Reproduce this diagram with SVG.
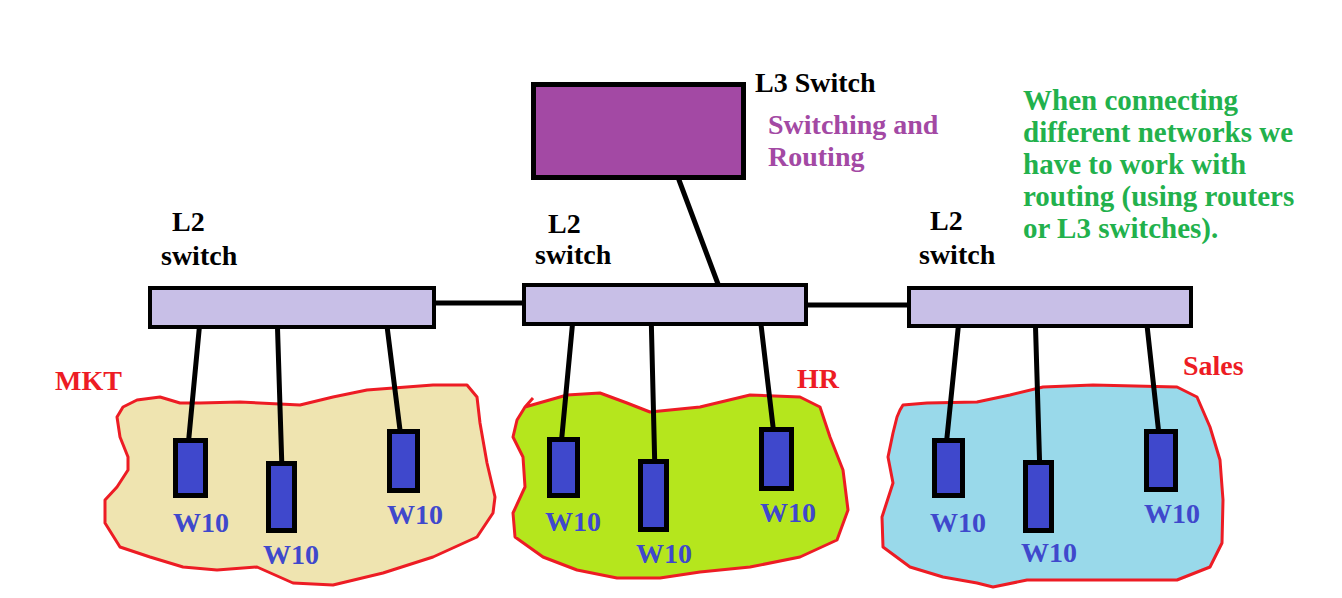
<svg xmlns="http://www.w3.org/2000/svg" width="1342" height="598" viewBox="0 0 1342 598" font-family="'Liberation Serif', 'Times New Roman', 'DejaVu Serif', serif" font-weight="bold" font-size="28">
<style>
.blob{stroke:#ed1c24;stroke-width:3;stroke-linejoin:round}
.l2{fill:#c8bfe7;stroke:#000;stroke-width:4}
.pc{fill:#3f48cc;stroke:#000;stroke-width:5}
.w{fill:#3f48cc}
.net{fill:#ed1c24}
.wire{stroke:#000;stroke-width:5;stroke-linecap:round;fill:none}
.blk{fill:#000}
</style>
<rect width="1342" height="598" fill="#fff"/>
<g id="areas">
<path id="mkt-area" class="blob" fill="#efe4b0" d="M123,407 L137,400 L160,397 L180,403 L200,403 L240,402 L300,405 L333,397 L367,390 L433,385 L467,385 L477,397 L480,423 L487,463 L495,497 L493,513 L477,537 L433,557 L383,573 L333,585 L293,583 L257,567 L217,570 L183,567 L150,557 L120,547 L105,523 L105,500 L117,487 L128,470 L128,457 L120,437 L117,417 Z"/>
<path id="hr-area" class="blob" fill="#b5e61d" d="M533,398 L525,407 L517,420 L513,437 L523,457 L525,487 L513,513 L515,537 L543,557 L577,570 L617,578 L660,578 L700,572 L750,567 L800,557 L837,540 L848,510 L843,470 L830,437 L820,407 L800,397 L750,395 L700,407 L650,412 L627,403 L600,393 L567,395 L525,407"/>
<path id="sales-area" class="blob" fill="#99d9ea" d="M900,410 L903,405 L927,403 L977,402 L1010,395 L1043,387 L1093,385 L1177,387 L1197,397 L1210,427 L1220,460 L1223,500 L1222,543 L1210,567 L1177,580 L1127,580 L1027,580 L993,587 L977,583 L943,577 L910,567 L883,547 L882,517 L893,483 L888,457 L893,433 L897,417 Z"/>
</g>
<g id="connectors">
<line class="wire" x1="426" y1="303" x2="522" y2="303"/>
<line class="wire" x1="796" y1="305" x2="907" y2="305"/>
<line class="wire" x1="718" y1="284" x2="679" y2="180"/>
<line class="wire" x1="201" y1="310" x2="188" y2="447"/>
<line class="wire" x1="277" y1="312" x2="282" y2="470"/>
<line class="wire" x1="386" y1="318" x2="401" y2="438"/>
<line class="wire" x1="574" y1="308" x2="561" y2="446"/>
<line class="wire" x1="651" y1="310" x2="655" y2="474"/>
<line class="wire" x1="760" y1="316" x2="774" y2="435"/>
<line class="wire" x1="960" y1="310" x2="946" y2="447"/>
<line class="wire" x1="1035" y1="310" x2="1040" y2="476"/>
<line class="wire" x1="1146" y1="316" x2="1159" y2="435"/>
</g>
<g id="l3-switch">
<rect x="533.5" y="84.5" width="210" height="93" fill="#a349a4" stroke="#000" stroke-width="5"/>
<text x="755" y="92" class="blk">L3 Switch</text>
<text x="768" y="134" fill="#a349a4">Switching and</text>
<text x="768" y="166" fill="#a349a4">Routing</text>
</g>
<g id="l2-left">
<rect class="l2" x="150" y="288" width="284" height="39"/>
<text x="172" y="231" class="blk">L2</text>
<text x="161" y="265" class="blk">switch</text>
</g>
<g id="l2-mid">
<rect class="l2" x="524" y="285" width="282" height="39"/>
<text x="548" y="233" class="blk">L2</text>
<text x="535" y="264" class="blk">switch</text>
</g>
<g id="l2-right">
<rect class="l2" x="909" y="288" width="282" height="38"/>
<text x="930" y="230" class="blk">L2</text>
<text x="919" y="264" class="blk">switch</text>
</g>
<g id="mkt-pcs">
<text x="55" y="390" class="net">MKT</text>
<rect class="pc" x="175.5" y="440.5" width="30" height="55"/>
<rect class="pc" x="268.5" y="463.5" width="26" height="67"/>
<rect class="pc" x="389.5" y="431.5" width="28" height="59"/>
<text x="173" y="532" class="w">W10</text>
<text x="263" y="564" class="w">W10</text>
<text x="387" y="524" class="w">W10</text>
</g>
<g id="hr-pcs">
<text x="797" y="388" class="net">HR</text>
<rect class="pc" x="549.5" y="439.5" width="28" height="56"/>
<rect class="pc" x="640.5" y="461.5" width="26" height="68"/>
<rect class="pc" x="761.5" y="429.5" width="30" height="59"/>
<text x="545" y="531" class="w">W10</text>
<text x="636" y="563" class="w">W10</text>
<text x="760" y="522" class="w">W10</text>
</g>
<g id="sales-pcs">
<text x="1183" y="375" class="net">Sales</text>
<rect class="pc" x="934.5" y="440.5" width="28" height="55"/>
<rect class="pc" x="1025.5" y="462.5" width="26" height="68"/>
<rect class="pc" x="1146.5" y="431.5" width="29" height="58"/>
<text x="930" y="532" class="w">W10</text>
<text x="1021" y="562" class="w">W10</text>
<text x="1144" y="523" class="w">W10</text>
</g>
<g id="note" fill="#22b14c" font-size="29">
<text x="1023" y="110">When connecting</text>
<text x="1023" y="142">different networks we</text>
<text x="1023" y="174">have to work with</text>
<text x="1023" y="206">routing (using routers</text>
<text x="1023" y="238">or L3 switches).</text>
</g>
</svg>
